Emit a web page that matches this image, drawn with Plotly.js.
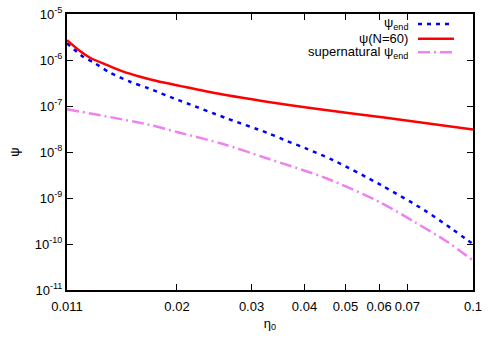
<!DOCTYPE html>
<html>
<head>
<meta charset="utf-8">
<script src="https://cdn.plot.ly/plotly-3.0.1.min.js"></script>
<style>html,body{margin:0;padding:0;background:#fff;}#chart{width:498px;height:349px;}</style>
</head>
<body>
<div id="chart"></div>
<script>
// Data (eta_0 on x, psi on y)
const psiEndX = [0.011, 0.012, 0.0127, 0.0139, 0.0155, 0.0171, 0.0201, 0.0211, 0.0262, 0.0326, 0.0364, 0.0403, 0.047, 0.0606, 0.0766, 0.0888, 0.097, 0.1];
const psiEndY = [2.31e-6, 1.18e-6, 8.9e-7, 5.3e-7, 3.37e-7, 2.43e-7, 1.35e-7, 1.15e-7, 5.4e-8, 2.63e-8, 1.73e-8, 1.2e-8, 6.5e-9, 1.92e-9, 5.5e-10, 2.19e-10, 1.22e-10, 1.0e-10];

const psiN60X = [0.011, 0.0118, 0.01247, 0.01366, 0.01495, 0.01637, 0.01793, 0.0203, 0.0253, 0.0326, 0.0413, 0.0617, 0.1];
const psiN60Y = [2.7e-6, 1.57e-6, 1.12e-6, 7.8e-7, 5.57e-7, 4.34e-7, 3.49e-7, 2.74e-7, 1.82e-7, 1.24e-7, 9.0e-8, 5.6e-8, 3.1e-8];

const superX = [0.011, 0.017, 0.0203, 0.0257, 0.0326, 0.0452, 0.0606, 0.0726, 0.0869, 0.1];
const superY = [8.5e-8, 4.0e-8, 2.63e-8, 1.49e-8, 7.3e-9, 2.65e-9, 7.9e-10, 3.05e-10, 1.12e-10, 4.4e-11];

const seriesNames = ['ψ<sub>end</sub>', 'ψ(N=60)', 'supernatural ψ<sub>end</sub>'];
const xTickVals = [0.011, 0.02, 0.03, 0.04, 0.05, 0.06, 0.07, 0.1];
const xTickText = ['0.011', '0.02', '0.03', '0.04', '0.05', '0.06', '0.07', '0.1'];
const yTickVals = [1e-11, 1e-10, 1e-9, 1e-8, 1e-7, 1e-6, 1e-5];
const yTickText = ['10<sup>-11</sup>', '10<sup>-10</sup>', '10<sup>-9</sup>', '10<sup>-8</sup>', '10<sup>-7</sup>', '10<sup>-6</sup>', '10<sup>-5</sup>'];

const colors = ['#0000ff', '#ff0000', '#ee82ee'];
const dashes = ['4px,5px', 'solid', '12px,4px,2px,4px'];

const FONT = 'Liberation Sans, Arial, sans-serif';

const traces = [
  {x: psiEndX, y: psiEndY, mode: 'lines', name: seriesNames[0], line: {color: colors[0], width: 2.5, dash: dashes[0], shape: 'spline', smoothing: 0.8}},
  {x: psiN60X, y: psiN60Y, mode: 'lines', name: seriesNames[1], line: {color: colors[1], width: 2.5, dash: dashes[1], shape: 'spline', smoothing: 0.8}},
  {x: superX, y: superY, mode: 'lines', name: seriesNames[2], line: {color: colors[2], width: 2.5, dash: dashes[2], shape: 'spline', smoothing: 0.8}}
];

// legend (gnuplot style: right-aligned text, sample at right)
const legY = [0.9638, 0.9105, 0.861];
const annotations = [];
const shapes = [];
for (let i = 0; i < 3; i++) {
  annotations.push({xref: 'paper', yref: 'paper', x: 0.845, y: legY[i], xanchor: 'right', yanchor: 'middle',
    text: seriesNames[i], showarrow: false, font: {family: FONT, size: 13, color: '#000'}});
  shapes.push({type: 'line', xref: 'paper', yref: 'paper', x0: 0.8645, x1: 0.953, y0: legY[i], y1: legY[i],
    line: {color: colors[i], width: 2.5, dash: dashes[i]}});
}
// minor log ticks on left and right borders (shapes on a log axis take log10 values)
const minorLen = 3 / 406;
for (let e = -11; e < -5; e++) {
  for (let m = 2; m <= 9; m++) {
    const ly = Math.log10(m) + e;
    shapes.push({type: 'line', xref: 'paper', yref: 'y', x0: 0, x1: minorLen, y0: ly, y1: ly, line: {color: '#000', width: 1}});
    shapes.push({type: 'line', xref: 'paper', yref: 'y', x0: 1 - minorLen, x1: 1, y0: ly, y1: ly, line: {color: '#000', width: 1}});
  }
}

const layout = {
  width: 498, height: 349,
  margin: {l: 67, r: 25, t: 14, b: 59},
  paper_bgcolor: '#fff', plot_bgcolor: '#fff',
  showlegend: false,
  font: {family: FONT, size: 13, color: '#000'},
  xaxis: {
    type: 'log', range: [Math.log10(0.011), -1],
    tickmode: 'array', tickvals: xTickVals, ticktext: xTickText,
    ticks: 'inside', ticklen: 6, tickwidth: 1, tickcolor: '#000', ticklabelstandoff: 3,
    showline: true, linecolor: '#000', linewidth: 2, mirror: 'ticks',
    showgrid: false, zeroline: false,
    title: {text: 'η<sub>0</sub>', standoff: 6, font: {family: FONT, size: 13}},
    automargin: false
  },
  yaxis: {
    type: 'log', range: [-11, -5],
    tickmode: 'array', tickvals: yTickVals, ticktext: yTickText,
    ticks: 'inside', ticklen: 6, tickwidth: 1, tickcolor: '#000',
    showline: true, linecolor: '#000', linewidth: 2, mirror: 'ticks',
    showgrid: false, zeroline: false,
    title: {text: 'ψ', standoff: 12, font: {family: FONT, size: 13}},
    automargin: false
  },
  annotations: annotations,
  shapes: shapes
};

Plotly.newPlot('chart', traces, layout, {staticPlot: true, displayModeBar: false});
</script>
</body>
</html>
